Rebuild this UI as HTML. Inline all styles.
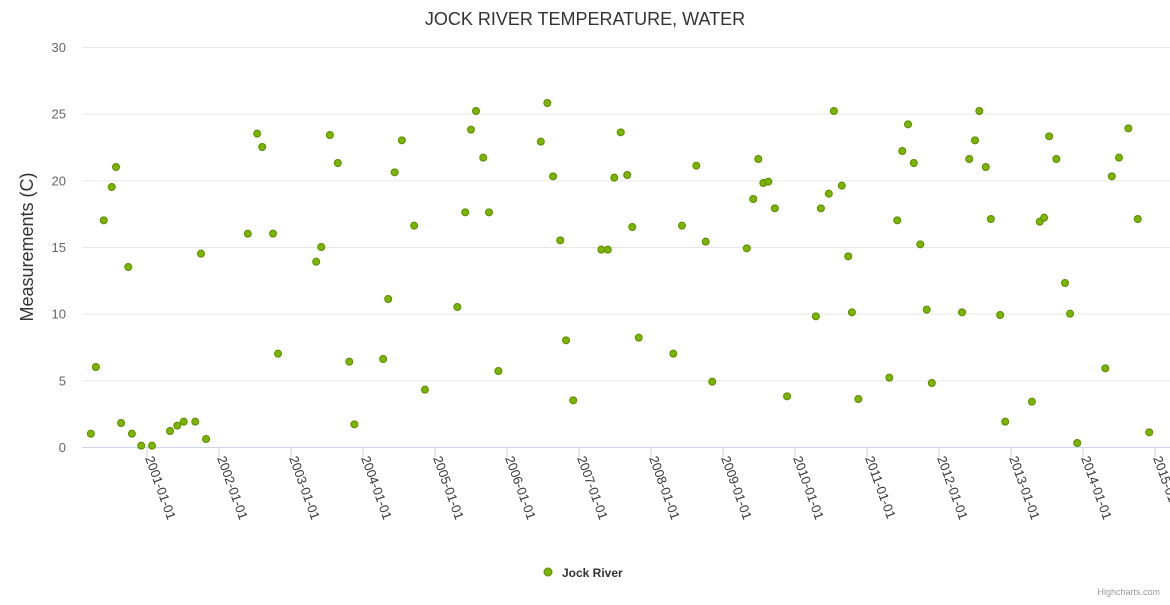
<!DOCTYPE html>
<html><head><meta charset="utf-8"><style>
body{margin:0;background:#fff;font-family:"Liberation Sans",sans-serif}
</style></head><body>
<svg id="chart" width="1170" height="600" xmlns="http://www.w3.org/2000/svg" font-family="Liberation Sans, sans-serif">
<rect width="1170" height="600" fill="#fff"/>
<text x="585" y="25" text-anchor="middle" font-size="18" fill="#333">JOCK RIVER TEMPERATURE, WATER</text>
<text transform="translate(33,247) rotate(-90)" text-anchor="middle" font-size="18" fill="#333">Measurements (C)</text>
<g id="grid"></g><g id="xaxis"></g><g id="pts"></g>
<g>
<circle cx="548" cy="572" r="4" fill="#7cb500" stroke="#5a8a00"/>
<text x="562" y="577" font-size="12" font-weight="bold" fill="#333">Jock River</text></g>
<text x="1160" y="595" text-anchor="end" font-size="9" fill="#999">Highcharts.com</text>
</svg>
<script>
const yTicks=[0,5,10,15,20,25,30];
const xTickYears=[2001,2002,2003,2004,2005,2006,2007,2008,2009,2010,2011,2012,2013,2014,2015];
const dates=[2000.22,2000.29,2000.40,2000.51,2000.57,2000.64,2000.74,2000.79,2000.92,2001.07,2001.32,2001.42,2001.51,2001.67,2001.75,2001.82,2002.40,2002.53,2002.60,2002.75,2002.82,2003.35,2003.42,2003.54,2003.65,2003.81,2003.88,2004.28,2004.35,2004.44,2004.54,2004.71,2004.86,2005.31,2005.42,2005.50,2005.57,2005.67,2005.75,2005.88,2006.47,2006.56,2006.64,2006.74,2006.82,2006.92,2007.31,2007.40,2007.49,2007.58,2007.67,2007.74,2007.83,2008.31,2008.43,2008.63,2008.76,2008.85,2009.33,2009.42,2009.49,2009.56,2009.63,2009.72,2009.89,2010.29,2010.36,2010.47,2010.54,2010.65,2010.74,2010.79,2010.88,2011.31,2011.42,2011.49,2011.57,2011.65,2011.74,2011.83,2011.90,2012.32,2012.42,2012.50,2012.56,2012.65,2012.72,2012.85,2012.92,2013.29,2013.40,2013.46,2013.53,2013.63,2013.75,2013.82,2013.92,2014.31,2014.40,2014.50,2014.63,2014.76,2014.92];
const temps=[1.0,6.0,17.0,19.5,21.0,1.8,13.5,1.0,0.1,0.1,1.2,1.6,1.9,1.9,14.5,0.6,16.0,23.5,22.5,16.0,7.0,13.9,15.0,23.4,21.3,6.4,1.7,6.6,11.1,20.6,23.0,16.6,4.3,10.5,17.6,23.8,25.2,21.7,17.6,5.7,22.9,25.8,20.3,15.5,8.0,3.5,14.8,14.8,20.2,23.6,20.4,16.5,8.2,7.0,16.6,21.1,15.4,4.9,14.9,18.6,21.6,19.8,19.9,17.9,3.8,9.8,17.9,19.0,25.2,19.6,14.3,10.1,3.6,5.2,17.0,22.2,24.2,21.3,15.2,10.3,4.8,10.1,21.6,23.0,25.2,21.0,17.1,9.9,1.9,3.4,16.9,17.2,23.3,21.6,12.3,10.0,0.3,5.9,20.3,21.7,23.9,17.1,1.1];
const NS="http://www.w3.org/2000/svg";
const x=v=>147+(v-2001)*72, y=v=>447-v*(400/30);
const g=document.getElementById('grid'),xa=document.getElementById('xaxis'),p=document.getElementById('pts');
function mk(t,a,par){const e=document.createElementNS(NS,t);for(const k in a)e.setAttribute(k,a[k]);par.appendChild(e);return e;}
yTicks.forEach(t=>{
 const l=mk('line',{x1:82,x2:1170,y1:y(t)+.5,y2:y(t)+.5,stroke:t===0?'#ccd6eb':'#e6e6e6'},g);
 
 
 const tx=mk('text',{x:66,y:y(t)+5,'text-anchor':'end','font-size':13,fill:'#666'},g);tx.textContent=t;
 
 
});
xTickYears.forEach(yr=>{
 const X=x(yr);
 const l=mk('line',{x1:X,x2:X,y1:447,y2:457,stroke:'#ccd6eb'},xa);
 
 
 const tx=mk('text',{transform:`translate(${X-2},${458}) rotate(70)`,'font-size':13,fill:'#333'},xa);tx.textContent=yr+'-01-01';
 
 
});
dates.forEach((d,i)=>{
 const c=mk('circle',{cx:x(d),cy:y(temps[i]),r:3.5,fill:'#7cb500',stroke:'#5a8a00','stroke-width':1},p);
 
 
});
</script>
</body></html>
